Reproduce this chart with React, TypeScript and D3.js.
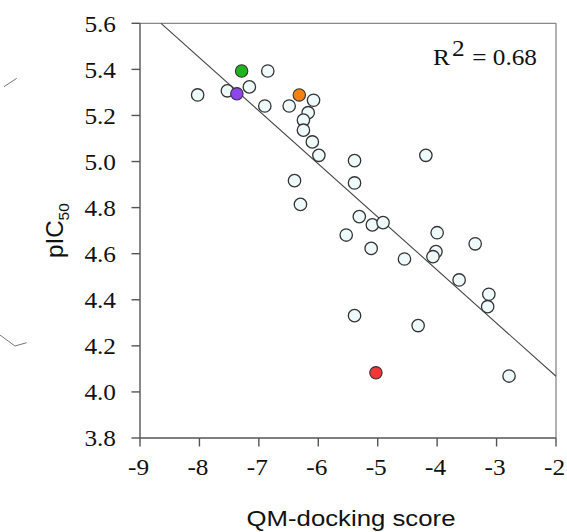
import React from "react";
import * as d3 from "d3";

const xTicks = [-9, -8, -7, -6, -5, -4, -3, -2];
const yTicks = [3.8, 4.0, 4.2, 4.4, 4.6, 4.8, 5.0, 5.2, 5.4, 5.6];

// open points: [QM-docking score, pIC50]
const scoreOpen = [
  -6.85, -8.03, -7.53, -7.16, -6.08, -6.9, -6.49, -6.17, -6.25, -6.25, -6.1, -5.99,
  -5.39, -4.19, -6.4, -5.39, -6.3, -5.31, -5.09, -4.91, -5.53, -4.0, -5.11, -3.36,
  -4.02, -4.07, -4.55, -3.63, -3.13, -3.15, -5.39, -4.32, -2.79,
];
const pic50Open = [
  5.393, 5.289, 5.307, 5.324, 5.266, 5.241, 5.241, 5.212, 5.18, 5.136, 5.085, 5.027,
  5.004, 5.027, 4.917, 4.907, 4.814, 4.761, 4.725, 4.735, 4.681, 4.691, 4.623, 4.643,
  4.609, 4.587, 4.577, 4.486, 4.424, 4.37, 4.331, 4.288, 4.069,
];

// highlighted compounds
const highlightScore = [-7.29, -7.37, -6.32, -5.03];
const highlightPic50 = [5.393, 5.294, 5.289, 4.083];
const highlightColor = ["#1db41d", "#8f45ee", "#f5820d", "#ef3838"];

// regression fit
const fitSlope = -0.2305;
const fitIntercept = 3.607;
const fitRange = [-8.646, -2];
const r2Text = "0.68";

const W = 567;
const H = 532;
const left = 140;
const right = 556;
const top = 23.3;
const bottom = 438;
const SX = 1.1;

export default function App() {
  const x = d3.scaleLinear().domain([-9, -2]).range([left, right]);
  const y = d3.scaleLinear().domain([3.8, 5.6]).range([bottom, top]);
  const serif = "Liberation Serif, Times New Roman, serif";
  const sans = "Liberation Sans, Arial, sans-serif";
  const axisColor = "#555";
  const textColor = "#111";
  const fitLine = d3
    .line<number>()
    .x((d) => x(d))
    .y((d) => y(fitSlope * d + fitIntercept));

  return (
    <svg
      width={W}
      height={H}
      style={{ position: "absolute", left: 0, top: 0, background: "#fff" }}
      xmlns="http://www.w3.org/2000/svg"
    >
      <rect x={0} y={0} width={W} height={H} fill="#fff" />
      {/* stray fragments at left edge */}
      <path d="M4,86.7 L16.7,78.3" stroke="#777" strokeWidth={1} fill="none" />
      <path d="M0,335 L15,346 L26.7,342.7" stroke="#777" strokeWidth={1} fill="none" />

      {/* frame */}
      <line x1={left} x2={right} y1={top} y2={top} stroke="#888" strokeWidth={1.3} />
      <line x1={right} x2={right} y1={top} y2={bottom} stroke="#888" strokeWidth={1.3} />
      <line x1={left} x2={left} y1={top} y2={bottom} stroke={axisColor} strokeWidth={1.4} />
      <line x1={left} x2={right} y1={bottom} y2={bottom} stroke={axisColor} strokeWidth={1.4} />

      {/* y ticks */}
      {yTicks.map((t) => (
        <g key={"y" + t}>
          <line x1={left - 8.5} x2={left} y1={y(t)} y2={y(t)} stroke={axisColor} strokeWidth={1.4} />
          <text
            transform={`translate(116, ${y(t) + 8.2}) scale(${SX},1)`}
            textAnchor="end"
            fontFamily={serif}
            fontSize={23}
            fill={textColor}
          >
            {t.toFixed(1)}
          </text>
        </g>
      ))}

      {/* x ticks */}
      {xTicks.map((t) => (
        <g key={"x" + t}>
          <line x1={x(t)} x2={x(t)} y1={bottom} y2={bottom + 8.5} stroke={axisColor} strokeWidth={1.4} />
          <text
            transform={`translate(${x(t) - 1.5}, 475) scale(${SX},1)`}
            textAnchor="middle"
            fontFamily={serif}
            fontSize={23}
            fill={textColor}
          >
            {"-" + Math.abs(t)}
          </text>
        </g>
      ))}

      {/* regression line */}
      <path d={fitLine(fitRange) || ""} stroke="#444" strokeWidth={1.1} fill="none" />

      {/* points */}
      {scoreOpen.map((s, i) => (
        <circle
          key={"o" + i}
          cx={x(s)}
          cy={y(pic50Open[i])}
          r={6.2}
          fill="#effbfb"
          stroke="#333"
          strokeWidth={1.3}
        />
      ))}
      {highlightScore.map((s, i) => (
        <circle
          key={"h" + i}
          cx={x(s)}
          cy={y(highlightPic50[i])}
          r={6.2}
          fill={highlightColor[i]}
          stroke="#333"
          strokeWidth={1.1}
        />
      ))}

      {/* R2 */}
      <text transform={`translate(433, 65) scale(${SX},1)`} fontFamily={serif} fontSize={23} fill={textColor}>
        R
      </text>
      <text transform={`translate(452, 56) scale(${SX},1)`} fontFamily={serif} fontSize={23} fill={textColor}>
        2
      </text>
      <text
        transform={`translate(537, 65) scale(${SX},1)`}
        textAnchor="end"
        fontFamily={serif}
        fontSize={23}
        fill={textColor}
      >
        {"= " + r2Text}
      </text>

      {/* axis titles */}
      <text
        transform={`translate(351, 526) scale(1.12,1)`}
        textAnchor="middle"
        fontFamily={sans}
        fontSize={23}
        fill={textColor}
      >
        QM-docking score
      </text>
      <text
        transform={`translate(63, ${(top + bottom) / 2}) rotate(-90) scale(1.1,1.1)`}
        textAnchor="middle"
        fontFamily={sans}
        fontSize={22}
        fill={textColor}
      >
        pIC
        <tspan fontSize={14} dy={5}>50</tspan>
      </text>
    </svg>
  );
}
